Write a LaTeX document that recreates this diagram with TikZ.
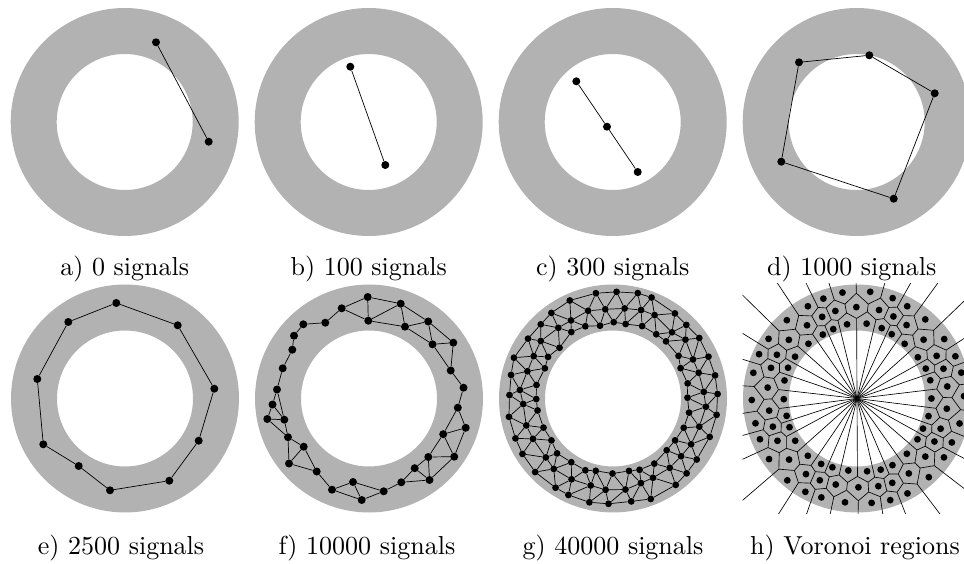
\documentclass[tikz,border=0pt]{standalone}
\usetikzlibrary{calc}

% seed point #2 of layer #1 of the Voronoi ring, in units of 10pt -> \px, \py
\newcommand\voronoipoint[2]{%
    \pgfmathsetmacro\vang{(#2+0.5*#1)*12+2*sin(97*#2+53*#1)}%
    \pgfmathsetmacro\vrad{(74+16*#1+1.5*sin(61*#2+29*#1+17))/10}%
    \pgfmathsetmacro\px{\vrad*cos(\vang)}%
    \pgfmathsetmacro\py{\vrad*sin(\vang)}%
}
% circumcentre of three seed points (layer/index pairs), stored as coordinate #1
\newcommand\voronoicenter[7]{%
    \voronoipoint{#2}{#3}\let\vax\px\let\vay\py
    \voronoipoint{#4}{#5}\let\vbx\px\let\vby\py
    \voronoipoint{#6}{#7}\let\vcx\px\let\vcy\py
    \pgfmathsetmacro\vdd{2*(\vax*(\vby-\vcy)+\vbx*(\vcy-\vay)+\vcx*(\vay-\vby))}%
    \pgfmathsetmacro\vsa{\vax*\vax+\vay*\vay}%
    \pgfmathsetmacro\vsb{\vbx*\vbx+\vby*\vby}%
    \pgfmathsetmacro\vsc{\vcx*\vcx+\vcy*\vcy}%
    \pgfmathsetmacro\vux{(\vsa*(\vby-\vcy)+\vsb*(\vcy-\vay)+\vsc*(\vay-\vby))/\vdd}%
    \pgfmathsetmacro\vuy{(\vsa*(\vcx-\vbx)+\vsb*(\vax-\vcx)+\vsc*(\vbx-\vax))/\vdd}%
    \coordinate (#1) at ($(ch)+(10*\vux,10*\vuy)$);%
}

\begin{document}
\begin{tikzpicture}[
    x=1pt, y=1pt,
    ring/.style={fill=black!30, even odd rule},
    dot/.style={circle, fill=black, inner sep=0pt, minimum size=8pt},
    smalldot/.style={circle, fill=black, inner sep=0pt, minimum size=6.8pt},
    edge/.style={draw=black, line width=0.7pt},
    cell/.style={draw=black, line width=0.65pt},
    caption/.style={anchor=base, scale=2.6}
]
    \useasboundingbox (0,0) rectangle (964,563);

    % ring centres
    \foreach \n/\x/\y in {a/124.7/441, b/368.7/441, c/612.7/441, d/856.7/441,
                          e/125/164.5, f/369/164.5, g/613/164.5, h/857/164.5} {
        \coordinate (c\n) at (\x,\y);
    }
    \foreach \n in {a,b,c,d,e,f,g} {
        \fill[ring] (c\n) circle[radius=114] (c\n) circle[radius=68];
    }

    % a) 0 signals
    \node[dot] (a1) at (156,520.7) {};
    \node[dot] (a2) at (208.7,421.3) {};
    \draw[edge] (a1) -- (a2);

    % b) 100 signals
    \node[dot] (b1) at (350.3,496.3) {};
    \node[dot] (b2) at (385.3,398) {};
    \draw[edge] (b1) -- (b2);

    % c) 300 signals
    \node[dot] (c1) at (576.3,481.7) {};
    \node[dot] (c2) at (607,436.3) {};
    \node[dot] (c3) at (637.7,391) {};
    \draw[edge] (c1) -- (c2) -- (c3);

    % d) 1000 signals
    \node[dot] (d1) at (799,500.7) {};
    \node[dot] (d2) at (869.3,507.7) {};
    \node[dot] (d3) at (934.7,469.7) {};
    \node[dot] (d4) at (893.7,364.3) {};
    \node[dot] (d5) at (781.3,401.3) {};
    \foreach \i/\j in {d1/d2, d2/d3, d3/d4, d4/d5, d5/d1} {
        \draw[edge] (\i) -- (\j);
    }

    % e) 2500 signals
    \foreach \i/\x/\y in {1/116.3/260, 2/177.7/237.7, 3/214.3/174.3, 4/198.7/122.3,
                          5/169.3/82.3, 6/110/72.7, 7/78.7/97, 8/43.3/118.7,
                          9/37.3/184, 10/68.3/241} {
        \node[dot] (e\i) at (\x,\y) {};
    }
    \foreach \i/\j in {e1/e2, e2/e3, e3/e4, e4/e5, e5/e6, e6/e7, e7/e8, e8/e9,
                       e9/e10, e10/e1} {
        \draw[edge] (\i) -- (\j);
    }

    % f) 10000 signals
    \foreach \i/\x/\y in {1/367.7/266, 2/400.7/259.3, 3/368.3/242.3, 4/341.7/254.7,
                          5/325.3/240.3, 6/303.3/238.7, 7/294/227.3, 8/292.3/213.3,
                          9/282.7/194.7, 10/277/173.5, 11/272.5/158.5, 12/267.3/144,
                          13/284.3/143.3, 14/288/125.8, 15/303.7/116.3, 16/289/99.5,
                          17/316.7/91.5, 18/332/73.3, 19/353/81, 20/361.7/63,
                          21/383.7/71.7, 22/401.3/80.7, 23/414.7/94.8, 24/428.3/106,
                          25/429.5/83, 26/454.2/106.3, 27/443.2/128.8, 28/465.7/135.2,
                          29/457.8/155.3, 30/463.5/175.3, 31/450.7/192.5, 32/453.3/220.3,
                          33/432.5/218.7, 34/428.2/241.5, 35/405/236.3} {
        \node[dot] (f\i) at (\x,\y) {};
    }
    \foreach \i/\j in {f1/f2, f1/f3, f1/f4, f2/f3, f3/f4, f2/f35, f2/f34, f3/f35,
                       f4/f5, f5/f6, f6/f7, f7/f8, f8/f9, f9/f10, f10/f11, f10/f13,
                       f11/f12, f11/f13, f12/f13, f12/f14, f13/f14, f14/f15, f14/f16,
                       f15/f16, f15/f17, f16/f17, f17/f18, f18/f19, f18/f20, f19/f20,
                       f19/f21, f20/f21, f21/f22, f22/f23, f22/f25, f23/f24, f23/f25,
                       f24/f25, f24/f26, f24/f27, f25/f26, f26/f27, f26/f28, f27/f28,
                       f27/f29, f28/f29, f29/f30, f30/f31, f31/f32, f31/f33, f32/f33,
                       f32/f34, f33/f34, f33/f35, f34/f35} {
        \draw[edge] (\i) -- (\j);
    }

    % g) 40000 signals
    \pgfmathsetseed{42}
    \foreach \la/\rb in {0/76, 1/91, 2/106} {
        \foreach \i in {0,...,31} {
            \pgfmathsetmacro\ang{(\i+0.5*\la)*11.25+2.5*rand}
            \pgfmathsetmacro\rad{\rb+2.5*rand}
            \node[smalldot] (g-\la-\i) at ($(cg)+(\ang:\rad)$) {};
        }
    }
    \foreach \i in {0,...,31} {
        \pgfmathtruncatemacro\j{mod(\i+1,32)}
        \foreach \la in {0,1,2} {
            \draw[edge] (g-\la-\i) -- (g-\la-\j);
        }
        \foreach \la/\lb in {0/1, 1/2} {
            \draw[edge] (g-\la-\i) -- (g-\lb-\i);
            \draw[edge] (g-\la-\j) -- (g-\lb-\i);
        }
    }

    % h) Voronoi regions
    \begin{scope}
        \clip (742.5,49.7) rectangle (964,279);
        \fill[ring] (ch) circle[radius=114] (ch) circle[radius=68];
        \foreach \la in {0,1,2} {
            \foreach \i in {0,...,29} {
                \voronoipoint{\la}{\i}
                \coordinate (hp-\la-\i) at ($(ch)+(10*\px,10*\py)$);
            }
        }
        \foreach \i in {0,...,29} {
            \pgfmathtruncatemacro\j{mod(\i+1,30)}
            \foreach \la/\lb in {0/1, 1/2} {
                \voronoicenter{hu-\la-\i}{\la}{\i}{\la}{\j}{\lb}{\i}
                \voronoicenter{hd-\la-\i}{\lb}{\i}{\lb}{\j}{\la}{\j}
            }
        }
        \foreach \i in {0,...,29} {
            \pgfmathtruncatemacro\j{mod(\i+1,30)}
            \foreach \la in {0,1} {
                \draw[cell] (hu-\la-\i) -- (hd-\la-\i) -- (hu-\la-\j);
            }
            \draw[cell] (hd-0-\i) -- (hu-1-\i);
            \draw[cell] (hu-0-\i) -- (ch);
            \coordinate (hm) at ($(hp-2-\i)!0.5!(hp-2-\j)$);
            \coordinate (hr) at ($(hm)!160pt!-90:(hp-2-\j)$);
            \draw[cell] (hd-1-\i) -- (hr);
        }
        \foreach \la in {0,1,2} {
            \foreach \i in {0,...,29} {
                \node[smalldot] (h-\la-\i) at (hp-\la-\i) {};
            }
        }
    \end{scope}

    % captions
    \node[caption] (capa) at (124.7,287) {a) 0 signals};
    \node[caption] (capb) at (368.7,287) {b) 100 signals};
    \node[caption] (capc) at (612.7,287) {c) 300 signals};
    \node[caption] (capd) at (851.7,287) {d) 1000 signals};
    \node[caption] (cape) at (121,9) {e) 2500 signals};
    \node[caption] (capf) at (367,9) {f) 10000 signals};
    \node[caption] (capg) at (613,9) {g) 40000 signals};
    \node[caption] (caph) at (855,9) {h) Voronoi regions};
\end{tikzpicture}
\end{document}
